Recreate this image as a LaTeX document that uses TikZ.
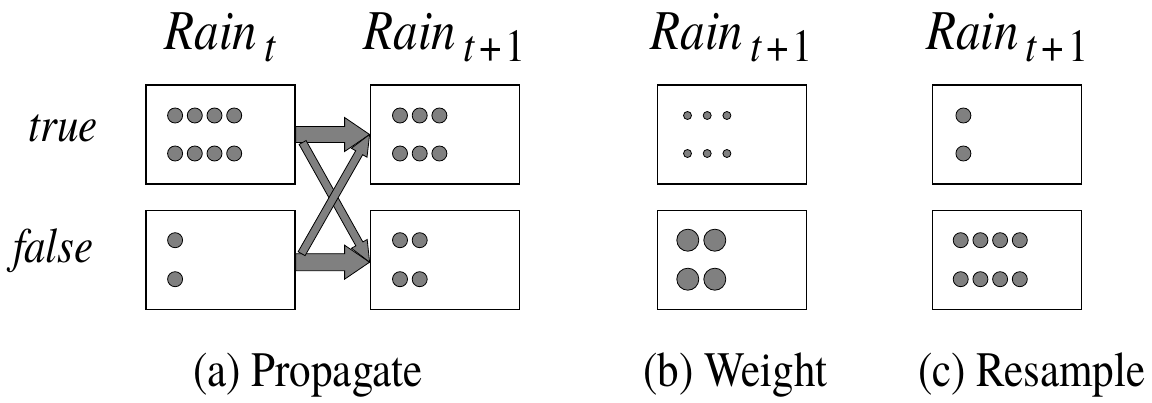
\documentclass[tikz,border=0pt]{standalone}
\usepackage{fontspec}
\setmainfont{texgyretermes}[Extension=.otf, UprightFont=*-regular, ItalicFont=*-italic, BoldFont=*-bold, BoldItalicFont=*-bolditalic]
\usetikzlibrary{calc, positioning}

\definecolor{particlegray}{HTML}{808080}

\tikzset{
  statebox/.style={draw, line width=1.2pt, minimum width=149pt, minimum height=99pt, inner sep=0pt},
  particle/.style={circle, draw, fill=particlegray, line width=0.8pt, inner sep=0pt, minimum size=#1},
  particle/.default=15pt,
  blockarrow/.style={draw, fill=particlegray, line width=0.8pt, line join=miter},
  rainlab/.style={anchor=base, inner sep=0pt},
  captext/.style={anchor=base west, inner sep=0pt, font=\fontsize{43}{48}\selectfont},
  vallabel/.style={anchor=base west, inner sep=0pt, font=\fontsize{43}{48}\selectfont\itshape}
}

% text is a little taller than wide in the slide
\newcommand{\tall}[1]{\scalebox{1}[1.15]{#1}}
\newcommand{\rainname}[1]{\tall{{\fontsize{49}{56}\selectfont\itshape Rain}\kern7pt\raisebox{-10.5pt}{\fontsize{40}{44}\selectfont #1}}}

% from, to, shaft half width, head half width, head length
\newcommand{\drawblockarrow}[5]{%
  \coordinate (ba) at (#1);
  \coordinate (bb) at (#2);
  \coordinate (bh) at ($(bb)!#5!(ba)$);
  \draw[blockarrow] ($(ba)!#3!90:(bb)$) -- ($(bh)!#3!-90:(ba)$) -- ($(bh)!#4!-90:(ba)$) -- (bb)
    -- ($(bh)!#4!90:(ba)$) -- ($(bh)!#3!90:(ba)$) -- ($(ba)!#3!-90:(bb)$) -- cycle;
}

\begin{document}
\begin{tikzpicture}[x=1pt, y=-1pt]
\useasboundingbox (0,0) rectangle (1152,403);
% Boxes for true and false
\node[statebox] (rt-true) at (220.5,134.5) {};
\node[statebox, below=25pt of rt-true] (rt-false) {};
\node[statebox, right=74pt of rt-true] (rn-true) {};
\node[statebox, below=25pt of rn-true] (rn-false) {};
\node[statebox, right=137pt of rn-true] (w-true) {};
\node[statebox, below=25pt of w-true] (w-false) {};
\node[statebox, right=125pt of w-true] (r-true) {};
\node[statebox, below=25pt of r-true] (r-false) {};
% Labels above the boxes
\node[rainlab] (lab-t) at ($(rt-true.north)+(0,-35)$) {\rainname{\textit{t}}};
\node[rainlab] (lab-n) at ($(rn-true.north)+(0,-35)$) {\rainname{\textit{t}\kern4pt+\kern4pt1}};
\node[rainlab] (lab-w) at ($(w-true.north)+(0,-35)$) {\rainname{\textit{t}\kern4pt+\kern4pt1}};
\node[rainlab] (lab-r) at ($(r-true.north)+(0,-35)$) {\rainname{\textit{t}\kern4pt+\kern4pt1}};
\node[vallabel] (val-true) at (28,141.5) {\tall{true}};
\node[vallabel] (val-false) at (13,263) {\tall{false}};
% Particles in (a)
\foreach \i in {0,...,3}
  \foreach \dy/\j in {-19/a,19/b}
    \node[particle] (pa-\i\j) at ($(rt-true.west)+(29.7+19.7*\i,\dy)$) {};
\foreach \dy/\j in {-19.5/a,19.5/b}
  \node[particle] (pb-\j) at ($(rt-false.west)+(29.7,\dy)$) {};
\foreach \i in {0,...,2}
  \foreach \dy/\j in {-19/a,19/b}
    \node[particle] (pc-\i\j) at ($(rn-true.west)+(30.4+19.7*\i,\dy)$) {};
\foreach \i in {0,1}
  \foreach \dy/\j in {-19.5/a,19.5/b}
    \node[particle] (pd-\i\j) at ($(rn-false.west)+(30.4+19.7*\i,\dy)$) {};
% Particles in (b)
\foreach \i in {0,...,2}
  \foreach \dy/\j in {-19/a,19/b}
    \node[particle=8pt] (pe-\i\j) at ($(w-true.west)+(30.7+19.7*\i,\dy)$) {};
\foreach \i in {0,1}
  \foreach \dy/\j in {-19.5/a,19.5/b}
    \node[particle=22pt] (pf-\i\j) at ($(w-false.west)+(31+27*\i,\dy)$) {};
% Particles in (c)
\foreach \dy/\j in {-19/a,19/b}
  \node[particle] (pg-\j) at ($(r-true.west)+(31.4,\dy)$) {};
\foreach \i in {0,...,3}
  \foreach \dy/\j in {-19.5/a,19.5/b}
    \node[particle] (ph-\i\j) at ($(r-false.west)+(28.7+19.7*\i,\dy)$) {};
% Arrows of the propagation
\coordinate (false-out) at ($(rt-false.east)+(0,2.5)$);
\coordinate (false-in) at ($(rn-false.west)+(0,2.5)$);
\drawblockarrow{rt-true.east}{rn-true.west}{8pt}{17pt}{25pt}
\drawblockarrow{false-out}{false-in}{8.5pt}{17pt}{25pt}
\coordinate (cross-down) at ($(rt-true.east)+(7,8)$);
\coordinate (cross-up) at ($(false-out)+(6,-8.5)$);
\drawblockarrow{cross-down}{false-in}{4pt}{9pt}{21pt}
\drawblockarrow{cross-up}{rn-true.west}{4pt}{9pt}{21pt}
% Captions
\node[captext] (cap-a) at (193,387) {\tall{(a) Propagate}};
\node[captext] (cap-b) at (643,387) {\tall{(b) Weight}};
\node[captext] (cap-c) at (918,387) {\tall{(c) Resample}};
\end{tikzpicture}
\end{document}
